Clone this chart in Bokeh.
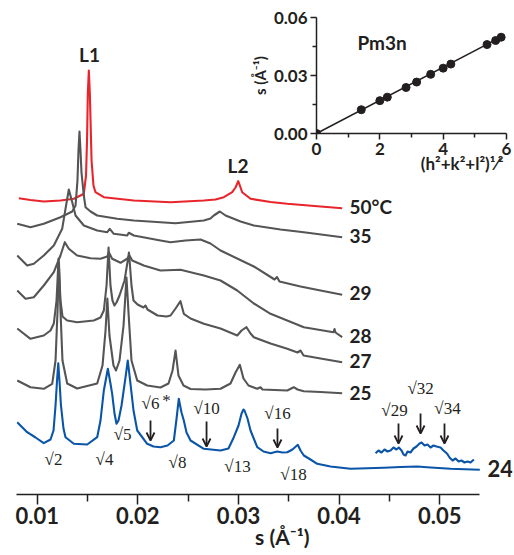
from bokeh.plotting import figure
from bokeh.models import Range1d, FixedTicker, NumeralTickFormatter, Label, Arrow, OpenHead, Title
from bokeh.embed import file_html
from bokeh.resources import INLINE

# ---------------- data (s in 1/Angstrom, stacked intensity in a.u.) ----------------
s_50 = [0.00817, 0.00933, 0.01065, 0.01231, 0.01364, 0.0143, 0.01463, 0.01485, 0.01495, 0.01503, 0.01513,
        0.01523, 0.0153, 0.0154, 0.01559, 0.01579, 0.01662, 0.0196, 0.02325, 0.02656, 0.02772, 0.02855,
        0.02938, 0.02971, 0.02998, 0.03021, 0.03037, 0.0312, 0.03319, 0.03485, 0.03816, 0.04031]
i_50 = [296.3, 294.5, 293, 294, 295.7, 299, 300.7, 319, 354, 401, 424,
        401, 374, 334, 309, 302.3, 297.3, 294, 292.3, 294, 295, 297.3,
        302.3, 307, 313.3, 307, 302.3, 295.7, 292.5, 290.7, 288, 286.3]

s_35 = [0.00801, 0.00933, 0.01065, 0.01231, 0.01348, 0.01381, 0.0140, 0.0141, 0.0142, 0.0143, 0.0144,
        0.01463, 0.0148, 0.0153, 0.01596, 0.01795, 0.0196, 0.02225, 0.02375, 0.02656, 0.02722, 0.02755,
        0.02815, 0.02872, 0.03021, 0.03153, 0.03418, 0.0365, 0.04031]
i_35 = [270.7, 267.3, 270.7, 277.3, 283, 289, 314, 344, 363, 344, 322,
        299, 287.3, 283, 279, 275.7, 274, 272.3, 271.3, 274, 276, 279,
        283, 279, 273, 269, 265, 262.3, 257.3]

s_29 = [0.00801, 0.009, 0.00966, 0.01065, 0.01165, 0.01248, 0.01281, 0.01314, 0.01348, 0.01381, 0.01463,
        0.01596, 0.01696, 0.01721, 0.01761, 0.01894, 0.0191, 0.0196, 0.02225, 0.02325, 0.02474, 0.02623,
        0.02722, 0.02822, 0.03153, 0.03359, 0.03383, 0.03408, 0.03617, 0.03816, 0.04031]
i_29 = [239, 229, 230.7, 239, 249, 265.7, 285.7, 305, 292.3, 279, 269,
        264, 262.3, 265.7, 260.7, 259, 261.7, 259, 254, 252.3, 254, 255,
        251, 244, 228, 215, 217.5, 213, 208, 204, 199.7]

s_28 = [0.00801, 0.00884, 0.00966, 0.01065, 0.01165, 0.01231, 0.01274, 0.01314, 0.01397, 0.0153, 0.01629,
        0.01696, 0.01713, 0.01745, 0.01828, 0.01897, 0.01917, 0.01944, 0.02059, 0.02225, 0.02424, 0.02656,
        0.02822, 0.02988, 0.03153, 0.03319, 0.0365, 0.03945, 0.03955, 0.03965, 0.04031]
i_28 = [204, 195.7, 197.3, 209, 222.3, 239, 252.3, 245.7, 239, 236.3, 235.7,
        238, 242, 235.7, 231.7, 236, 239, 234, 229, 224, 224.7, 219,
        214, 204, 191, 180.7, 167.3, 162.3, 165.5, 162, 157.3]

s_27 = [0.00801, 0.00933, 0.01065, 0.01132, 0.01165, 0.01192, 0.01212, 0.01231, 0.01251, 0.01298, 0.01397,
        0.01562, 0.01629, 0.01662, 0.01689, 0.01709, 0.01728, 0.01748, 0.01768, 0.01788, 0.01818, 0.01868,
        0.01912, 0.01937, 0.01957, 0.01997, 0.02056, 0.02076, 0.02096, 0.02196, 0.02285, 0.02325, 0.02375,
        0.02424, 0.02457, 0.02524, 0.02656, 0.02822, 0.02988, 0.03031, 0.0308, 0.0312, 0.03153, 0.03319,
        0.03485, 0.03587, 0.03617, 0.03647, 0.03816, 0.04031]
i_27 = [166, 155.7, 159, 164, 171, 194, 236, 194, 178, 174, 172.3,
        174, 177, 184, 209, 247, 209, 194, 189, 192, 199, 214,
        242, 209, 194, 190, 187, 189, 185, 179, 178, 179, 186,
        193.3, 180.7, 176, 170.7, 166, 159, 164, 167.3, 161, 157.3, 151,
        145.7, 142, 144, 139, 136, 132.3]

s_25 = [0.00801, 0.00933, 0.01065, 0.01149, 0.01182, 0.01202, 0.01216, 0.01231, 0.01251, 0.01298, 0.01397,
        0.01596, 0.01649, 0.01679, 0.01697, 0.01718, 0.01758, 0.01783, 0.01818, 0.01858, 0.01887, 0.01912,
        0.01937, 0.01994, 0.02093, 0.02225, 0.02305, 0.02345, 0.02375, 0.02404, 0.02454, 0.02524, 0.02673,
        0.02822, 0.02921, 0.02971, 0.03014, 0.0305, 0.031, 0.03187, 0.03219, 0.03239, 0.03485, 0.0355,
        0.03587, 0.0365, 0.03816, 0.04031]
i_25 = [114, 107.3, 105.7, 110.7, 134, 184, 232, 184, 134, 111, 106,
        111, 129, 164, 196, 159, 129, 124, 134, 169, 217, 174,
        134, 114, 109, 107, 111, 124, 144, 119, 109, 105.5, 105,
        105.7, 111, 122, 129.7, 116, 109, 105.7, 107.3, 105, 104, 107.3,
        105, 103.3, 102.5, 101.3]

s_24 = [0.00801, 0.009, 0.00983, 0.01065, 0.01132, 0.01162, 0.01182, 0.01197, 0.01209, 0.01221, 0.01236,
        0.01261, 0.01281, 0.01364, 0.01497, 0.01596, 0.01629, 0.01662, 0.01702, 0.01728, 0.01745, 0.01768,
        0.01788, 0.01808, 0.01838, 0.01878, 0.019, 0.01927, 0.01957, 0.01994, 0.02093, 0.02156, 0.02225,
        0.02295, 0.02358, 0.02385, 0.02407, 0.02434, 0.02457, 0.02484, 0.02524, 0.02656, 0.02822, 0.02901,
        0.02954, 0.03001, 0.03031, 0.0305, 0.0306, 0.0309, 0.0312, 0.03187, 0.03249, 0.03319, 0.03385,
        0.03438, 0.03485, 0.03537, 0.0359, 0.03617, 0.0365, 0.03716, 0.03783, 0.03915, 0.04114, 0.04445,
        0.04611, 0.04777, 0.04909, 0.05108, 0.05399]
i_24 = [72.3, 62.3, 57, 51.3, 55, 64, 89, 114, 131.3, 114, 89,
        66, 57.3, 50.7, 50, 57.3, 74, 104, 125.7, 111, 100.7, 81,
        70.7, 74, 89, 117.3, 134, 110.7, 84, 64, 50.7, 48, 47.3,
        49, 54, 76, 95.7, 82, 74, 62, 54, 45.7, 44, 46,
        57.3, 69, 81, 85, 84, 76, 64, 47.3, 43, 41.3, 43,
        42, 42.3, 45, 49.7, 44, 39, 35, 30.7, 28, 25.7, 26.7,
        27.5, 28, 27, 25.7, 24.7]

# magnified high-s part of the 24 degC pattern
s_24_zoom = [0.04363, 0.04392, 0.04422, 0.04452, 0.04482, 0.04512, 0.04541, 0.04571, 0.04594, 0.04621,
             0.04641, 0.04661, 0.04681, 0.0471, 0.0474, 0.0477, 0.048, 0.0482, 0.0485, 0.04879, 0.04909,
             0.04939, 0.04969, 0.05009, 0.05038, 0.05075, 0.05098, 0.05128, 0.05158, 0.05188, 0.05217,
             0.05247, 0.05277, 0.05307, 0.0534]
i_24_zoom = [41.3, 44, 42, 45, 43, 44, 47, 45, 47, 44,
             40, 39, 43, 42, 46, 48, 51, 52, 49, 50, 47,
             49, 48, 47, 44, 40.7, 37, 34, 36, 33, 34,
             32, 33, 32, 35]

temperature_labels = ["50\u00b0C", "35", "29", "28", "27", "25", "24"]
s_ticks = [0.01, 0.02, 0.03, 0.04, 0.05]
s_minor_ticks = [0.015, 0.025, 0.035, 0.045]

# inset: Pm3n indexing
hkl_root = [0, 1.414, 2, 2.236, 2.828, 3.162, 3.606, 4, 4.243, 5.385, 5.657, 5.831]
s_peak = [0, 0.0123, 0.0170, 0.0188, 0.0238, 0.0266, 0.0306, 0.0338, 0.0359, 0.0460, 0.0481, 0.0498]
fit_x = [0, 5.85]
fit_s = [0, 0.0501]
inset_x_ticks = [0, 2, 4, 6]
inset_x_minor = [1, 3, 5]
inset_y_ticks = [0, 0.03, 0.06]
inset_y_minor = [0.015, 0.045]

# ---------------- styling ----------------
TXT = "#231f20"
GRAY = "#555555"
RED = "#e8252b"
BLUE = "#0b55a8"
SANS = "Lato"
SERIF = "Liberation Serif"

INSET_H = 188


def style_axis(a, tick_out, minor_out, font_size):
    a.major_label_text_font = SANS
    a.major_label_text_font_style = "bold"
    a.major_label_text_font_size = font_size
    a.major_label_text_color = TXT
    a.major_tick_out = tick_out
    a.major_tick_in = 0
    a.minor_tick_out = minor_out
    a.minor_tick_in = 0
    a.axis_line_width = 1.5
    a.major_tick_line_width = 1.5
    a.minor_tick_line_width = 1.5
    a.axis_line_color = TXT
    a.major_tick_line_color = TXT
    a.minor_tick_line_color = TXT
    a.axis_label_text_font = SANS
    a.axis_label_text_font_style = "bold"
    a.axis_label_text_color = TXT


# ---------------- inset (drawn first, main plot is laid over it transparently) ----------------
inset = figure(width=268, height=INSET_H, output_backend="svg", toolbar_location=None,
               x_range=Range1d(0, 6), y_range=Range1d(0, 0.06),
               min_border_left=70, min_border_right=8, min_border_top=17, min_border_bottom=55,
               outline_line_color=None, background_fill_alpha=0, border_fill_alpha=0,
               margin=(0, 0, 0, 246))
inset.xgrid.visible = False
inset.ygrid.visible = False
ix = inset.xaxis[0]
iy = inset.yaxis[0]
ix.ticker = FixedTicker(ticks=inset_x_ticks, minor_ticks=inset_x_minor)
ix.formatter = NumeralTickFormatter(format="0")
iy.ticker = FixedTicker(ticks=inset_y_ticks, minor_ticks=inset_y_minor)
iy.formatter = NumeralTickFormatter(format="0.00")
for a in (ix, iy):
    style_axis(a, 6, 4, "17px")
    a.major_label_standoff = 3
iy.axis_label = "s (\u00c5\u207b\u00b9)"
iy.axis_label_text_font_size = "15px"
iy.axis_label_standoff = 2

# x-axis title of the inset, right-aligned under the axis
inset.add_layout(Title(text="(h\u00b2+k\u00b2+l\u00b2)\u00b9\u2044\u00b2", align="right",
                       text_font=SANS, text_font_style="bold", text_font_size="17px",
                       text_color=TXT, standoff=-14, offset=3), "below")

inset.line(fit_x, fit_s, line_color=TXT, line_width=1.6)
inset.scatter(hkl_root, s_peak, size=8, color=TXT)
inset.add_layout(Label(x=2.07, y=0.0471, text="Pm3n", text_font=SANS, text_font_style="bold",
                       text_font_size="19px", text_color=TXT, text_baseline="middle", text_align="center"))

# ---------------- main stacked SAXS patterns ----------------
main = figure(width=514, height=555, output_backend="svg", toolbar_location=None,
              x_range=Range1d(0.00794, 0.05724), y_range=Range1d(0, 486),
              y_axis_location=None, min_border_left=16, min_border_right=2,
              min_border_top=8, min_border_bottom=61,
              background_fill_alpha=0, border_fill_alpha=0, outline_line_color=None,
              margin=(-INSET_H, 0, 0, 0))
main.xgrid.visible = False
main.ygrid.visible = False

ax = main.xaxis[0]
ax.ticker = FixedTicker(ticks=s_ticks, minor_ticks=s_minor_ticks)
ax.formatter = NumeralTickFormatter(format="0.00")
ax.bounds = (0.00794, 0.05396)
style_axis(ax, 10, 7, "22px")
ax.major_label_standoff = 2
ax.axis_label = "\u00a0" * 7 + "s (\u00c5\u207b\u00b9)"
ax.axis_label_text_font_size = "21px"
ax.axis_label_standoff = -3

curves = [(s_50, i_50, RED), (s_35, i_35, GRAY), (s_29, i_29, GRAY), (s_28, i_28, GRAY),
          (s_27, i_27, GRAY), (s_25, i_25, GRAY), (s_24, i_24, BLUE), (s_24_zoom, i_24_zoom, BLUE)]
for xs, ys, c in curves:
    main.line(xs, ys, line_color=c, line_width=2.1, line_join="round")

label_pos = [(0.04104, 288), (0.04104, 259), (0.04104, 202), (0.04104, 159),
             (0.04104, 134), (0.04104, 101.5), (0.05476, 26)]
label_size = ["19px", "19px", "19px", "19px", "19px", "19px", "22px"]
for t, (x, y), fs in zip(temperature_labels, label_pos, label_size):
    main.add_layout(Label(x=x, y=y, text=t, text_font=SANS, text_font_style="bold",
                          text_font_size=fs, text_color=TXT, text_baseline="middle", text_align="left"))

for t, x, y in [("L1", 0.01520, 440), ("L2", 0.02996, 329)]:
    main.add_layout(Label(x=x, y=y, text=t, text_font=SANS, text_font_style="bold",
                          text_font_size="19px", text_color=TXT, text_baseline="middle", text_align="center"))

refl = [("\u221a2", 0.01162, 35), ("\u221a4", 0.01669, 35), ("\u221a5", 0.01848, 60),
        ("\u221a6", 0.02126, 91), ("\u221a8", 0.02394, 32), ("\u221a10", 0.02683, 86),
        ("\u221a13", 0.02991, 28), ("\u221a16", 0.03388, 81), ("\u221a18", 0.03547, 20),
        ("\u221a29", 0.04551, 84), ("\u221a32", 0.0481, 106), ("\u221a34", 0.05078, 86),
        ("*", 0.02285, 94)]
for t, x, y in refl:
    main.add_layout(Label(x=x, y=y, text=t, text_font=SERIF, text_font_size="17px",
                          text_color=TXT, text_baseline="middle", text_align="center"))

arrows = [(0.02126, 74, 54), (0.02683, 73, 48), (0.03388, 66, 47),
          (0.04591, 71, 51), (0.0481, 81, 61), (0.05048, 71, 51)]
for x, y0, y1 in arrows:
    main.add_layout(Arrow(end=OpenHead(size=8, line_width=1.8, line_color=TXT),
                          x_start=x, y_start=y0, x_end=x, y_end=y1,
                          line_width=1.8, line_color=TXT))

open("out.html", "w").write(file_html([inset, main], INLINE))
